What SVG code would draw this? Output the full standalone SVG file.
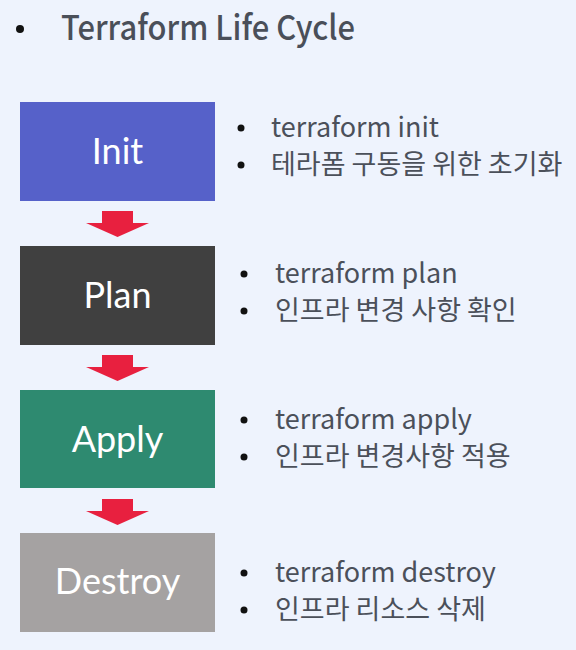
<svg xmlns="http://www.w3.org/2000/svg" width="576" height="650" viewBox="0 0 576 650">
<style>
.bg{fill:#eef3fd}
.box-label{font-family:Lato,"Open Sans",sans-serif;font-size:36px;fill:#ffffff;text-anchor:middle}
.desc{font-family:"Noto Sans CJK KR","Noto Sans",sans-serif;font-size:27px;fill:#4b505a}
.title{font-family:"Noto Sans CJK KR","Noto Sans",sans-serif;font-size:34px;font-weight:500;fill:#4a4f59}
.dot{fill:#111111}
.arrow{fill:#e8203f}
</style>
<defs>
<path id="arr" class="arrow" d="M-15,0 H16 V12 H32 L0.5,26 L-31,12 H-15 Z"/>
</defs>
<rect class="bg" x="0" y="0" width="576" height="650"/>
<g id="title">
<circle class="dot" cx="20" cy="29" r="4"/>
<text class="title" x="61" y="40" textLength="294" lengthAdjust="spacingAndGlyphs">Terraform Life Cycle</text>
</g>
<g id="connectors">
<use href="#arr" x="117" y="211"/>
<use href="#arr" x="117" y="355"/>
<use href="#arr" x="117" y="499"/>
</g>
<g id="init">
<rect x="20" y="102" width="195" height="99" fill="#5661c9"/>
<text class="box-label" x="117.5" y="164">Init</text>
</g>
<g id="init-desc">
<circle class="dot" cx="241" cy="128" r="3.5"/>
<text class="desc" x="271" y="137">terraform init</text>
<circle class="dot" cx="241" cy="165" r="3.5"/>
<text class="desc" x="271" y="174">테라폼 구동을 위한 초기화</text>
</g>
<g id="plan">
<rect x="20" y="246" width="195" height="99" fill="#404040"/>
<text class="box-label" x="117.5" y="308">Plan</text>
</g>
<g id="plan-desc">
<circle class="dot" cx="244" cy="274" r="3.5"/>
<text class="desc" x="275" y="283">terraform plan</text>
<circle class="dot" cx="244" cy="311" r="3.5"/>
<text class="desc" x="275" y="320">인프라 변경 사항 확인</text>
</g>
<g id="apply">
<rect x="20" y="390" width="195" height="98" fill="#2e8a70"/>
<text class="box-label" x="117.5" y="452">Apply</text>
</g>
<g id="apply-desc">
<circle class="dot" cx="244" cy="420" r="3.5"/>
<text class="desc" x="275" y="429">terraform apply</text>
<circle class="dot" cx="244" cy="457" r="3.5"/>
<text class="desc" x="275" y="466">인프라 변경사항 적용</text>
</g>
<g id="destroy">
<rect x="20" y="533" width="195" height="99" fill="#a5a2a2"/>
<text class="box-label" x="117.5" y="594">Destroy</text>
</g>
<g id="destroy-desc">
<circle class="dot" cx="244" cy="573" r="3.5"/>
<text class="desc" x="275" y="582">terraform destroy</text>
<circle class="dot" cx="244" cy="610" r="3.5"/>
<text class="desc" x="275" y="619">인프라 리소스 삭제</text>
</g>
</svg>
